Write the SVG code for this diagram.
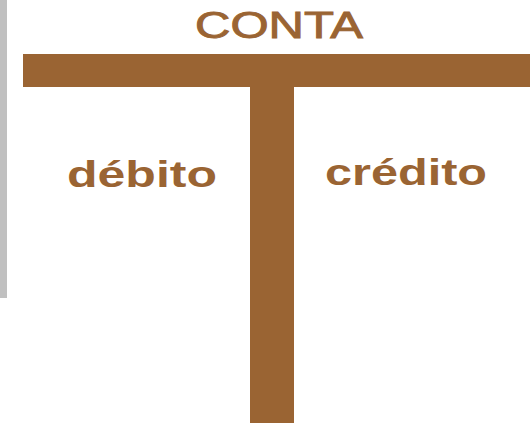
<svg xmlns="http://www.w3.org/2000/svg" width="530" height="426" viewBox="0 0 530 426">
<style>
.bar{fill:#9a6433}
.t{fill:#9a6433;font-family:"Liberation Sans",Arial,sans-serif}
</style>
<rect width="530" height="426" fill="#ffffff"/>
<rect x="0" y="0" width="7" height="298" fill="#c0c0c0"/>
<g id="conta">
<text class="t" x="195" y="38" font-size="36" stroke="#9a6433" stroke-width="0.9" textLength="168" lengthAdjust="spacingAndGlyphs">CONTA</text>
</g>
<g id="taccount">
<rect class="bar" x="23" y="54" width="507" height="33"/>
<rect class="bar" x="250" y="54" width="44" height="369"/>
</g>
<g id="debito">
<text class="t" x="67" y="187" font-size="36" font-weight="bold" textLength="150" lengthAdjust="spacingAndGlyphs">débito</text>
</g>
<g id="credito">
<text class="t" x="325" y="185" font-size="36" font-weight="bold" textLength="162" lengthAdjust="spacingAndGlyphs">crédito</text>
</g>
</svg>
